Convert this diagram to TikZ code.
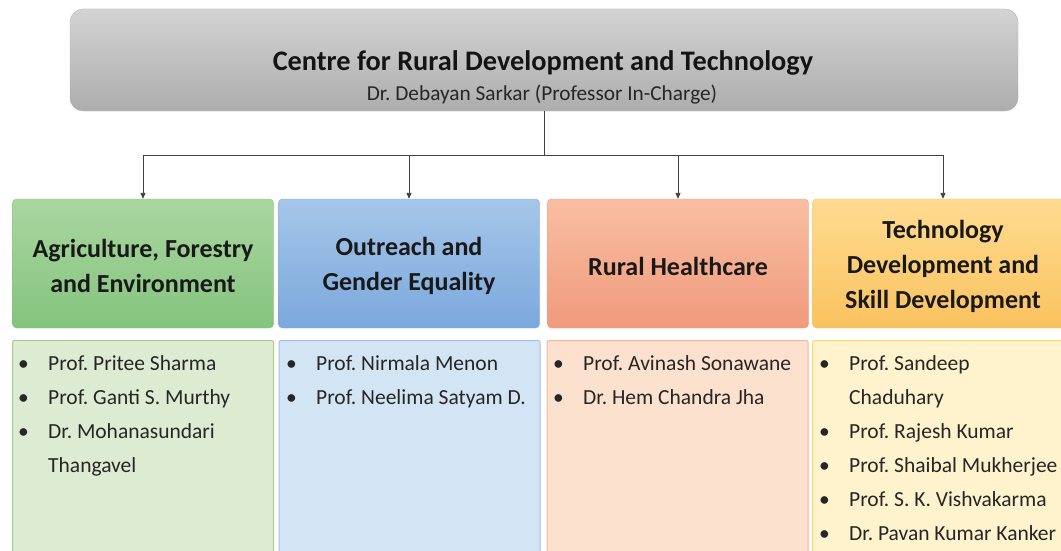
\documentclass[tikz,border=0pt]{standalone}
\usepackage{fontspec}
\setmainfont{Carlito}
\usetikzlibrary{arrows.meta}
\frenchspacing
\definecolor{topA}{HTML}{D3D3D3}
\definecolor{topB}{HTML}{ADADAD}
\definecolor{gA}{HTML}{AAD6A0}
\definecolor{gB}{HTML}{84C47E}
\definecolor{gL}{HTML}{DDEBD3}
\definecolor{gE}{HTML}{A8D08D}
\definecolor{bA}{HTML}{A5C6E9}
\definecolor{bB}{HTML}{7BA8DC}
\definecolor{bL}{HTML}{D3E5F5}
\definecolor{bE}{HTML}{9DC3E6}
\definecolor{oA}{HTML}{F9BEA2}
\definecolor{oB}{HTML}{F09A7C}
\definecolor{oL}{HTML}{FCE1CE}
\definecolor{oE}{HTML}{F6B894}
\definecolor{yA}{HTML}{FFDC91}
\definecolor{yB}{HTML}{FAC25F}
\definecolor{yL}{HTML}{FFF3CD}
\definecolor{yE}{HTML}{FFD966}
\definecolor{lineC}{HTML}{404040}
\tikzset{
  headbox/.style={rectangle, rounded corners=4pt, minimum width=261pt, minimum height=129pt, inner sep=0pt},
  lowbox/.style={rectangle, rounded corners=2pt, minimum width=261pt, minimum height=230pt, anchor=north, inner sep=0pt, line width=1pt},
  headtext/.style={align=center, font=\fontsize{26}{35}\selectfont\bfseries, text=black!90},
  listtext/.style={anchor=north west, inner sep=0pt, align=left, font=\fontsize{21.5}{34}\selectfont, text=black!85},
  conn/.style={draw=lineC, line width=0.9pt},
  arr/.style={conn, -{Triangle[length=6pt,width=5pt]}}
}
\newcommand{\blt}{\makebox[30pt][l]{\hspace{0pt}\textbullet}}
\begin{document}
\begin{tikzpicture}[x=1pt,y=-1pt]
\useasboundingbox (0,0) rectangle (1061,551);
\clip (0,0) rectangle (1061,551);
\fill[white] (0,0) rectangle (1061,551);
% top box
\node[rectangle, rounded corners=13pt, minimum width=948pt, minimum height=102pt, top color=topA, bottom color=topB, draw=topB!90!white, inner sep=0pt] (top) at (544,60) {};
\node[anchor=base, font=\fontsize{28.3}{34}\selectfont\bfseries, text=black!92] (title) at (543,71) {Centre for Rural Development and Technology};
\node[anchor=base, font=\fontsize{21.3}{25}\selectfont, text=black!85] (sub) at (542,100) {Dr. Debayan Sarkar (Professor In-Charge)};
% headers
\node[headbox, top color=gA, bottom color=gB, draw=gB] (h1) at (143,263.5) {};
\node[headbox, top color=bA, bottom color=bB, draw=bB] (h2) at (409,263.5) {};
\node[headbox, top color=oA, bottom color=oB, draw=oB] (h3) at (678,263.5) {};
\node[headbox, top color=yA, bottom color=yB, draw=yB] (h4) at (943,263.5) {};
\node[headtext] (t1) at ([yshift=-2.5pt]h1) {Agriculture, Forestry\\and Environment};
\node[headtext] (t2) at ([yshift=-2.5pt]h2) {Outreach and\\Gender Equality};
\node[headtext] (t3) at ([yshift=-2.5pt]h3) {Rural Healthcare};
\node[headtext] (t4) at ([yshift=-2.5pt]h4) {Technology\\Development and\\Skill Development};
% connectors
\coordinate (j) at (544,155);
\draw[conn] (top.south) -- (j);
\draw[conn] (h1.north |- j) -- (h4.north |- j);
\foreach \h in {h1,h2,h3,h4} \draw[arr] (\h.north |- j) -- (\h.north);
% lower boxes
\node[lowbox, fill=gL, draw=gE] (l1) at (143,340) {};
\node[lowbox, fill=bL, draw=bE] (l2) at (409.5,340) {};
\node[lowbox, fill=oL, draw=oE] (l3) at (677.5,340) {};
\node[lowbox, fill=yL, draw=yE] (l4) at (943,340) {};
\node[listtext] (m1) at (18,346) {\begin{tabular}{@{}l@{}l@{}}\blt & Prof. Pritee Sharma\\ \blt & Prof. Ganti S. Murthy\\ \blt & Dr. Mohanasundari\\ & Thangavel\end{tabular}};
\node[listtext] (m2) at (286,346) {\begin{tabular}{@{}l@{}l@{}}\blt & Prof. Nirmala Menon\\ \blt & Prof. Neelima Satyam D.\end{tabular}};
\node[listtext] (m3) at (553,346) {\begin{tabular}{@{}l@{}l@{}}\blt & Prof. Avinash Sonawane\\ \blt & Dr. Hem Chandra Jha\end{tabular}};
\node[listtext] (m4) at (819,346) {\begin{tabular}{@{}l@{}l@{}}\blt & Prof. Sandeep\\ & Chaduhary\\ \blt & Prof. Rajesh Kumar\\ \blt & Prof. Shaibal Mukherjee\\ \blt & Prof. S. K. Vishvakarma\\ \blt & Dr. Pavan Kumar Kanker\end{tabular}};
\end{tikzpicture}
\end{document}
